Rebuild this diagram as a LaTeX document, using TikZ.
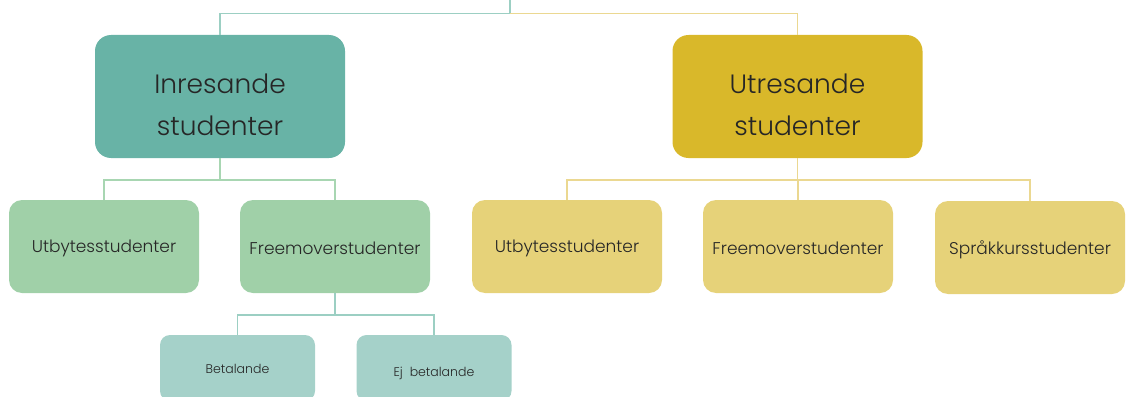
\documentclass[tikz,border=0pt]{standalone}
\usepackage{fontspec}
\setmainfont{Poppins}[UprightFont=* Light]
\definecolor{teal1}{HTML}{68B3A6}
\definecolor{gold1}{HTML}{D9B82A}
\definecolor{green2}{HTML}{A0D0A8}
\definecolor{gold2}{HTML}{E6D279}
\definecolor{teal3}{HTML}{A5D1C9}
\definecolor{tline}{HTML}{9CCFC3}
\definecolor{gline}{HTML}{EBD891}
\definecolor{glinel}{HTML}{A8D6B2}
\begin{document}
\begin{tikzpicture}[x=1pt,y=-1pt,
  bigbox/.style={rounded corners=16pt, minimum width=250pt, minimum height=123pt, inner sep=0pt},
  midbox/.style={rounded corners=13pt, minimum width=190pt, minimum height=93pt, inner sep=0pt},
  smallbox/.style={rounded corners=10pt, minimum width=155pt, minimum height=66pt, inner sep=0pt},
  bigtext/.style={align=center, text=black!85, inner sep=0pt, font=\fontsize{26.5}{42}\selectfont},
  midtext/.style={text=black!85, inner sep=0pt, font=\fontsize{17}{20}\selectfont},
  smalltext/.style={text=black!85, inner sep=0pt, font=\fontsize{12.5}{14}\selectfont},
  conn/.style={line width=1.2pt}]
\useasboundingbox (0,0) rectangle (1126,396);
\clip (0,0) rectangle (1126,396);
\coordinate (top) at (510,0);
\node[bigbox, fill=teal1] (in) at (220,96.5) {};
\node[bigtext] (inT) at ([yshift=-8pt]in.center) {Inresande\\studenter};
\node[bigbox, fill=gold1] (ut) at (797.5,96.5) {};
\node[bigtext] (utT) at ([yshift=-8pt]ut.center) {Utresande\\studenter};
\node[midbox, fill=green2] (inU) at (104,246.5) {};
\node[midtext] (inUT) at ([yshift=-2pt]inU.center) {Utbytesstudenter};
\node[midbox, fill=green2] (inF) at (335,246.5) {};
\node[midtext] (inFT) at ([yshift=-2pt]inF.center) {Freemoverstudenter};
\node[midbox, fill=gold2] (utU) at (567,246.5) {};
\node[midtext] (utUT) at ([yshift=-2pt]utU.center) {Utbytesstudenter};
\node[midbox, fill=gold2] (utF) at (798,246.5) {};
\node[midtext] (utFT) at ([yshift=-2pt]utF.center) {Freemoverstudenter};
\node[midbox, fill=gold2] (utS) at (1030,247.5) {};
\node[midtext] (utST) at ([yshift=-2pt]utS.center) {Språkkursstudenter};
\node[smallbox, fill=teal3] (b1) at (237.5,368) {};
\node[smalltext] (b1T) at ([yshift=-1pt]b1.center) {Betalande};
\node[smallbox, fill=teal3] (b2) at (434,368) {};
\node[smalltext] (b2T) at ([yshift=-5pt]b2.center) {Ej\ \ betalande};
% top connectors
\draw[conn, tline] (top) -- (510,13.5) -| (in.north);
\draw[conn, gline] (510,13.5) -| (ut.north);
% left connectors
\draw[conn, glinel] (in.south) -- (220,180) -| (inU.north);
\draw[conn, glinel] (220,180) -| (inF.north);
\draw[conn, tline] (inF.south) -- (335,315) -| (b1.north);
\draw[conn, tline] (335,315) -| (b2.north);
% right connectors
\draw[conn, gline] (ut.south) -- (797.5,180) -| (utU.north);
\draw[conn, gline] (797.5,180) -| (utF.north);
\draw[conn, gline] (797.5,180) -| (utS.north);
\end{tikzpicture}
\end{document}
